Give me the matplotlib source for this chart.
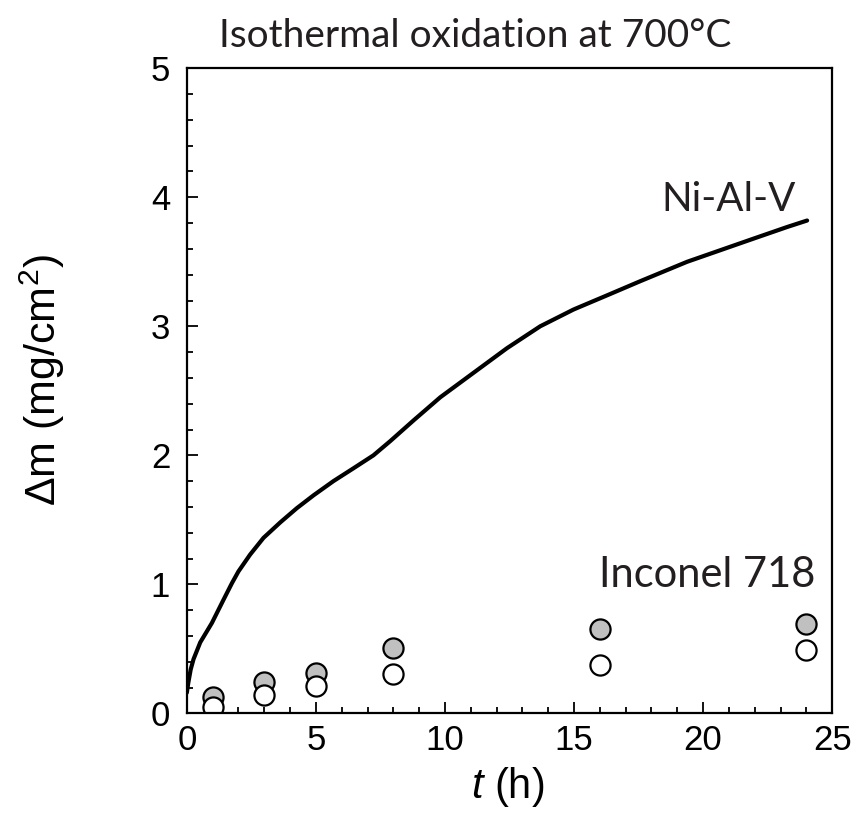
import numpy as np
import matplotlib
matplotlib.use('Agg')
import matplotlib.pyplot as plt
from matplotlib.ticker import MultipleLocator

# Ni-Al-V continuous curve
t_nialv = [0.0, 0.06, 0.15, 0.26, 0.52, 0.97, 1.42, 1.75, 2.0, 2.45, 2.97, 3.62, 4.26, 4.91,
           5.68, 6.46, 7.23, 7.88, 8.78, 9.82, 11.11, 12.40, 13.69, 14.98,
           16.28, 17.57, 19.38, 20.67, 21.96, 23.26, 24.03]
dm_nialv = [0.16, 0.24, 0.34, 0.42, 0.55, 0.70, 0.88, 1.01, 1.10, 1.23, 1.36, 1.48, 1.59, 1.69,
            1.80, 1.90, 2.00, 2.11, 2.27, 2.45, 2.64, 2.83, 3.00, 3.13,
            3.24, 3.35, 3.50, 3.59, 3.68, 3.77, 3.82]

# Inconel 718 points
t_inc = [1, 3, 5, 8, 16, 24]
dm_inc_grey = [0.13, 0.245, 0.315, 0.51, 0.655, 0.69]
dm_inc_white = [0.05, 0.14, 0.21, 0.305, 0.375, 0.49]

plt.rcParams['font.family'] = ['Liberation Sans', 'DejaVu Sans']
plt.rcParams['mathtext.fontset'] = 'custom'
plt.rcParams['mathtext.it'] = 'Liberation Sans:italic'
plt.rcParams['mathtext.rm'] = 'Liberation Sans'

fig = plt.figure(figsize=(8.57, 8.13), dpi=100)
ax = fig.add_axes([0.218, 0.1226, 0.753, 0.7934])

ax.plot(t_nialv, dm_nialv, color='black', lw=3.0, solid_capstyle='round',
        solid_joinstyle='round')
ax.plot(t_inc, dm_inc_grey, 'o', ms=14.5, mfc='#c0c0c0', mec='black', mew=1.6, ls='none')
ax.plot(t_inc, dm_inc_white, 'o', ms=14.5, mfc='white', mec='black', mew=1.6, ls='none')

ax.set_xlim(0, 25)
ax.set_ylim(0, 5)
ax.xaxis.set_major_locator(MultipleLocator(5))
ax.xaxis.set_minor_locator(MultipleLocator(1))
ax.yaxis.set_major_locator(MultipleLocator(1))
ax.yaxis.set_minor_locator(MultipleLocator(0.2))
ax.tick_params(which='both', direction='in', top=False, right=False, width=1.3, labelsize=25)
ax.tick_params(which='major', length=8)
ax.tick_params(which='minor', length=4.3)
ax.tick_params(axis='x', pad=8)
ax.tick_params(axis='y', pad=12)
for sp in ax.spines.values():
    sp.set_linewidth(1.6)

ax.set_xlabel('$t$ (h)', fontsize=30)
ax.xaxis.set_label_coords(0.4966, -0.080)
ax.set_ylabel(r'$\Delta$m (mg/cm$^2$)', fontsize=31)
ax.yaxis.set_label_coords(-0.186, 0.517)

ann_font = ['Lato', 'DejaVu Sans']
ax.text(23.58, 3.89, 'Ni-Al-V', fontsize=29, family=ann_font, color='#231f20',
        ha='right', va='baseline')
ax.text(24.35, 0.98, 'Inconel 718', fontsize=30, family=ann_font, color='#231f20',
        ha='right', va='baseline')
fig.text(475 / 857, 1 - 47 / 813, 'Isothermal oxidation at 700°C', fontsize=28,
         family=ann_font, color='#231f20', ha='center', va='baseline')

fig.savefig('out.png', dpi=100)
